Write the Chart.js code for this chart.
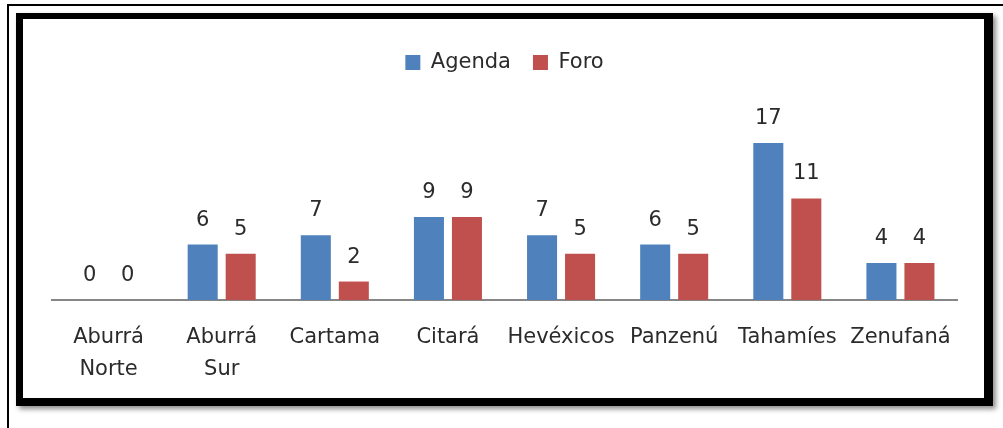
<!DOCTYPE html>
<html>
<head>
<meta charset="utf-8">
<script src="https://cdn.jsdelivr.net/npm/chart.js@4/dist/chart.umd.min.js"></script>
<style>
body{margin:0;background:#fff;width:1003px;height:428px;overflow:hidden;position:relative}
#outer{position:absolute;left:7px;top:4px;width:1100px;height:500px;border-left:2px solid #000;border-top:2px solid #000}
#frame{position:absolute;left:16px;top:13px;width:961px;height:379px;border-style:solid;border-color:#000;border-width:6px 9px 8px 7px;box-shadow:3px 3px 5px rgba(0,0,0,0.45);background:#fff}
#wrap{position:absolute;left:0;top:0;width:961px;height:379px}
</style>
</head>
<body>
<div id="outer"></div>
<div id="frame"><div id="wrap"><canvas id="mycanvas"></canvas></div></div>
<script>
// datos de la grafica
var regiones = [["Aburrá","Norte"],["Aburrá","Sur"],"Cartama","Citará","Hevéxicos","Panzenú","Tahamíes","Zenufaná"];
var agenda = [0,6,7,9,7,6,17,4];
var foro = [0,5,2,9,5,5,11,4];

var fuente = "'DejaVu Sans', sans-serif";

// etiquetas de valor encima de las barras
var etiquetas = {
  id:'etiquetas',
  afterDatasetsDraw:function(chart){
    var ctx = chart.ctx;
    ctx.save();
    ctx.font = "21px " + fuente;
    ctx.fillStyle = "#2b2b2b";
    ctx.textAlign = "center";
    ctx.textBaseline = "alphabetic";
    chart.data.datasets.forEach(function(ds,i){
      chart.getDatasetMeta(i).data.forEach(function(bar,j){
        ctx.fillText(ds.data[j], bar.x, bar.y - 19);
      });
    });
    ctx.restore();
  }
};

var ctx = document.getElementById("mycanvas");
var grafica = new Chart(ctx,{
  type:'bar',
  data:{
    labels:regiones,
    datasets:[
      {label:"Agenda",data:agenda,backgroundColor:"#4F81BD",categoryPercentage:0.672,barPercentage:0.79},
      {label:"Foro",data:foro,backgroundColor:"#C0504D",categoryPercentage:0.672,barPercentage:0.79}
    ]
  },
  options:{
    responsive:true,
    maintainAspectRatio:false,
    animation:false,
    layout:{padding:{left:29,right:27,top:11,bottom:-9}},
    plugins:{
      legend:{
        position:'top',
        labels:{boxWidth:15,boxHeight:15,padding:22,color:"#2b2b2b",font:{family:fuente,size:21}}
      },
      tooltip:{enabled:false}
    },
    scales:{
      x:{
        grid:{display:false,drawTicks:false},
        border:{display:true,color:"#868686",width:2},
        ticks:{color:"#2b2b2b",padding:22,font:{family:fuente,size:21,lineHeight:1.5},maxRotation:0,autoSkip:false}
      },
      y:{display:false,min:0,max:23.5}
    }
  },
  plugins:[etiquetas]
});
</script>
</body>
</html>
